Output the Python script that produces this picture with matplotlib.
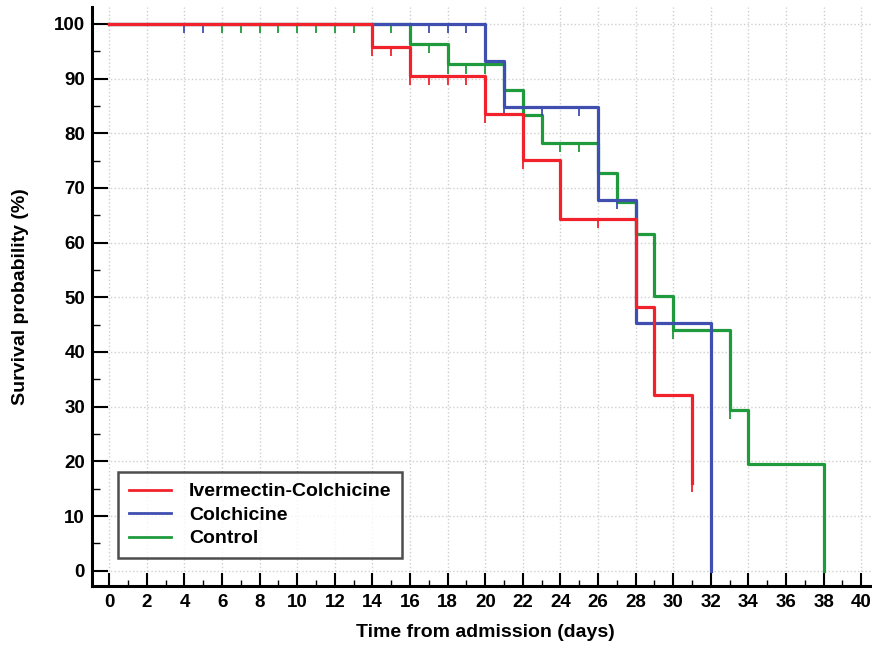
import numpy as np
import matplotlib.pyplot as plt
from matplotlib.ticker import MultipleLocator

plt.rcParams['font.family'] = ['Liberation Sans', 'DejaVu Sans']
plt.rcParams['font.weight'] = 'bold'

# Kaplan-Meier step data (days, survival %)
ivc_t = [0, 14, 16, 20, 22, 24, 28, 29, 31]
ivc_s = [100, 95.8, 90.5, 83.6, 75.2, 64.4, 48.3, 32.2, 16.1]
ivc_cens = [14, 15, 16, 17, 18, 19, 20, 22, 26, 31]

col_t = [0, 20, 21, 26, 28, 32]
col_s = [100, 93.3, 84.8, 67.8, 45.3, 0]
col_cens = [4, 5, 17, 18, 19, 21, 23, 25, 27]

ctl_t = [0, 16, 18, 21, 22, 23, 26, 27, 28, 29, 30, 33, 34, 38]
ctl_s = [100, 96.4, 92.6, 88.0, 83.3, 78.3, 72.7, 67.4, 61.6, 50.3, 44.1, 29.4, 19.6, 0]
ctl_cens = [6, 7, 8, 9, 10, 11, 12, 13, 14, 15, 17, 18, 19, 20, 22, 24, 25, 30, 33]

groups = [
    ('Ivermectin-Colchicine', ivc_t, ivc_s, ivc_cens, '#f2222c'),
    ('Colchicine', col_t, col_s, col_cens, '#3f4fb0'),
    ('Control', ctl_t, ctl_s, ctl_cens, '#1f9a3c'),
]

fig = plt.figure(figsize=(8.72, 6.46), dpi=100)
ax = fig.add_axes([92 / 872, 1 - 586 / 646, 780 / 872, 579 / 646])

# draw in reverse so red ends up on top
for name, t, s, cens, c in groups[::-1]:
    ax.step(t, s, where='post', color=c, lw=2.3, zorder=3)
    idx = np.searchsorted(t, cens, side='right') - 1
    lvl = np.array(s)[idx]
    ax.vlines(cens, lvl - 1.7, lvl, color=c, lw=1.3, zorder=3)

handles = [plt.Line2D([], [], color=c, lw=2) for _, _, _, _, c in groups]
leg = ax.legend(handles, [g[0] for g in groups], loc='lower left',
                bbox_to_anchor=((118 - 92) / 780, (586 - 558) / 579),
                fontsize=14, frameon=True, fancybox=False, handlelength=2.2,
                handletextpad=0.9, borderpad=0.55, labelspacing=0.3,
                borderaxespad=0)
leg.get_frame().set_edgecolor('#222222')
leg.get_frame().set_linewidth(1.8)
for txt in leg.get_texts():
    txt.set_fontweight('bold')

ax.set_xlim(-0.92, 40.57)
ax.set_ylim(-2.8, 103.1)
ax.xaxis.set_major_locator(MultipleLocator(2))
ax.xaxis.set_minor_locator(MultipleLocator(1))
ax.yaxis.set_major_locator(MultipleLocator(10))
ax.yaxis.set_minor_locator(MultipleLocator(5))
ax.tick_params(axis='x', which='major', direction='in', length=9.5, width=1.5,
               labelsize=13.5, pad=6)
ax.tick_params(axis='x', which='minor', direction='in', length=4.5, width=1)
ax.tick_params(axis='y', which='major', direction='in', length=11.5, width=1.5,
               labelsize=13.5, pad=5)
ax.tick_params(axis='y', which='minor', direction='in', length=5.8, width=1)
for lab in ax.get_xticklabels() + ax.get_yticklabels():
    lab.set_fontweight('bold')

ax.grid(True, which='major', color='#cfcfcf', linestyle=':', lw=1)
ax.set_axisbelow(True)
for side in ['top', 'right']:
    ax.spines[side].set_visible(False)
for side in ['left', 'bottom']:
    ax.spines[side].set_linewidth(2.2)

ax.set_xlabel('Time from admission (days)', fontsize=14, fontweight='bold')
ax.set_ylabel('Survival probability (%)', fontsize=14, fontweight='bold')
ax.xaxis.set_label_coords((485 - 92) / 780, -(624 - 586) / 579)
ax.yaxis.set_label_coords(-(92 - 29) / 780, 0.5)

fig.savefig('out.png', dpi=100)
